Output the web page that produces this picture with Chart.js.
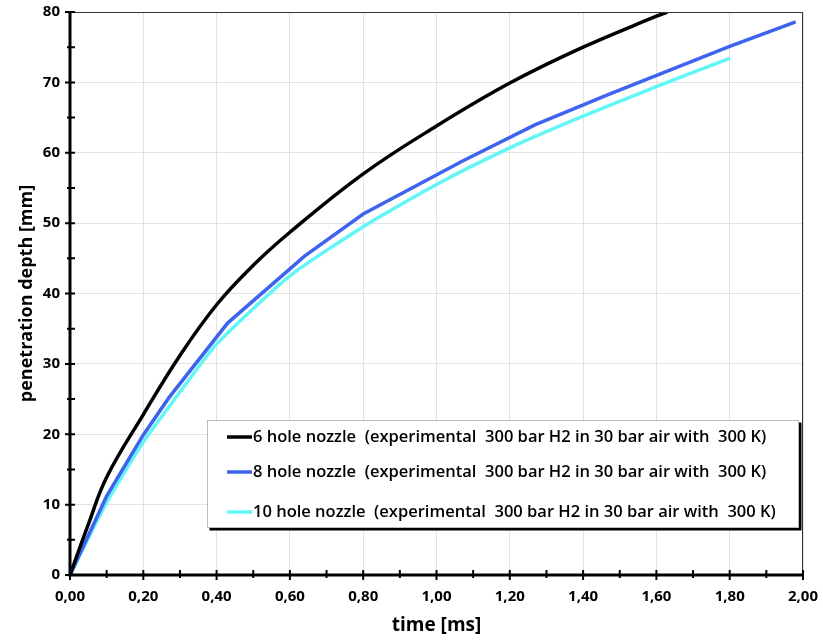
<!DOCTYPE html>
<html>
<head>
<meta charset="utf-8">
<script src="https://cdn.jsdelivr.net/npm/chart.js@4"></script>
<style>
    html, body { margin: 0; padding: 0; background: #fff; }
    #wrap { width: 823px; height: 641px; }
</style>
</head>
<body>
<div id="wrap"><canvas id="chart" width="823" height="641"></canvas></div>
<script>
// time [ms] / depth [mm]
const time6 = [0, 0.05, 0.1, 0.2, 0.3, 0.4, 0.5, 0.6, 0.8, 1.0, 1.2, 1.4, 1.6, 1.63];
const depth6 = [0, 7.2, 13.9, 22.8, 31.2, 38.4, 44, 48.7, 57, 63.8, 69.9, 75, 79.4, 80];

const time8 = [0, 0.1, 0.2, 0.27, 0.43, 0.64, 0.8, 1.07, 1.27, 1.47, 1.8, 1.98];
const depth8 = [0, 11.2, 19.9, 25.2, 35.8, 45.3, 51.3, 58.8, 64, 68.3, 75.1, 78.6];

const time10 = [0, 0.1, 0.2, 0.3, 0.4, 0.6, 0.8, 1.0, 1.2, 1.4, 1.6, 1.8];
const depth10 = [0, 10.3, 18.9, 26, 32.8, 42.5, 49.5, 55.5, 60.7, 65.2, 69.4, 73.4];

const seriesLabels = [
    "6 hole nozzle  (experimental  300 bar H2 in 30 bar air with  300 K)",
    "8 hole nozzle  (experimental  300 bar H2 in 30 bar air with  300 K)",
    "10 hole nozzle  (experimental  300 bar H2 in 30 bar air with  300 K)"
];
const colors = ["#000000", "#3d63ef", "#62f6f6"];

const FONT = "'Open Sans', 'DejaVu Sans', sans-serif";

function pts(xs, ys) {
    return xs.map((x, i) => ({ x: x, y: ys[i] }));
}

// axes with crossing tick marks, frame and the boxed legend
const axesPlugin = {
    id: "axesPlugin",
    afterDraw(chart) {
        const ctx = chart.ctx;
        const a = chart.chartArea;
        const xs = chart.scales.x;
        const ys = chart.scales.y;
        ctx.save();
        // thin frame top / right
        ctx.strokeStyle = "#333";
        ctx.lineWidth = 1;
        ctx.beginPath();
        ctx.moveTo(a.left, a.top + 0.5);
        ctx.lineTo(a.right - 0.5, a.top + 0.5);
        ctx.lineTo(a.right - 0.5, a.bottom);
        ctx.stroke();
        // thick axes
        ctx.strokeStyle = "#000";
        ctx.lineWidth = 3;
        ctx.beginPath();
        ctx.moveTo(a.left, a.top);
        ctx.lineTo(a.left, a.bottom);
        ctx.lineTo(a.right, a.bottom);
        ctx.stroke();
        ctx.lineWidth = 2;
        ctx.beginPath();
        for (let v = 0; v <= 80; v += 5) {
            const p = ys.getPixelForValue(v);
            const len = v % 10 === 0 ? 5 : 3;
            ctx.moveTo(a.left - len, p);
            ctx.lineTo(a.left + 5, p);
        }
        for (let k = 0; k <= 20; k++) {
            const p = xs.getPixelForValue(k / 10);
            const len = k % 2 === 0 ? 5 : 3;
            ctx.moveTo(p, a.bottom - 5);
            ctx.lineTo(p, a.bottom + len);
        }
        ctx.stroke();

        // legend
        const lx = 207, ly = 420, lw = 592, lh = 108;
        ctx.fillStyle = "#000";
        ctx.fillRect(lx + 2.5, ly + 2.5, lw, lh);
        ctx.fillStyle = "#fff";
        ctx.fillRect(lx, ly, lw, lh);
        ctx.strokeStyle = "#bbb";
        ctx.lineWidth = 1;
        ctx.strokeRect(lx + 0.5, ly + 0.5, lw - 1, lh - 1);
        const rows = [437, 472, 512];
        ctx.font = "600 16.5px " + FONT;
        ctx.textBaseline = "middle";
        chart.data.datasets.forEach((ds, i) => {
            ctx.strokeStyle = ds.borderColor;
            ctx.lineWidth = 3.5;
            ctx.beginPath();
            ctx.moveTo(227, rows[i]);
            ctx.lineTo(252, rows[i]);
            ctx.stroke();
            ctx.fillStyle = "#000";
            ctx.fillText(ds.label, 253, rows[i]);
        });
        ctx.restore();
    }
};

const datasets = [
    { label: seriesLabels[0], data: pts(time6, depth6), borderColor: colors[0], tension: 0.4 },
    { label: seriesLabels[1], data: pts(time8, depth8), borderColor: colors[1], tension: 0 },
    { label: seriesLabels[2], data: pts(time10, depth10), borderColor: colors[2], tension: 0.2 }
].map(d => Object.assign(d, { borderWidth: 3.5, pointRadius: 0, fill: false }));

new Chart(document.getElementById("chart").getContext("2d"), {
    type: "line",
    data: { datasets: datasets },
    options: {
        responsive: false,
        animation: false,
        layout: { padding: { top: 12, right: 20, left: 0, bottom: 0 } },
        plugins: { legend: { display: false }, tooltip: { enabled: false } },
        scales: {
            x: {
                type: "linear",
                min: 0,
                max: 2,
                afterFit(s) {
                    s.height = 66;
                    s.paddingLeft = 0;
                    s.paddingRight = 0;
                },
                ticks: {
                    stepSize: 0.2,
                    color: "#000",
                    padding: 13,
                    font: { family: FONT, size: 15, weight: "bold" },
                    callback: v => v.toFixed(2).replace(".", ",")
                },
                grid: { color: "#e2e2e2", drawTicks: false },
                border: { display: false },
                title: {
                    display: true,
                    text: "time [ms]",
                    color: "#000",
                    padding: { top: 0, bottom: 4 },
                    font: { family: FONT, size: 19, weight: "bold" }
                }
            },
            y: {
                min: 0,
                max: 80,
                afterFit(s) {
                    s.width = 70;
                    s.paddingTop = 0;
                    s.paddingBottom = 0;
                },
                ticks: {
                    stepSize: 10,
                    color: "#000",
                    padding: 10,
                    font: { family: FONT, size: 15, weight: "bold" }
                },
                grid: { color: "#e2e2e2", drawTicks: false },
                border: { display: false },
                title: {
                    display: true,
                    text: "penetration depth [mm]",
                    color: "#000",
                    padding: { top: 16, bottom: 2 },
                    font: { family: FONT, size: 18, weight: "bold" }
                }
            }
        }
    },
    plugins: [axesPlugin]
});
</script>
</body>
</html>
